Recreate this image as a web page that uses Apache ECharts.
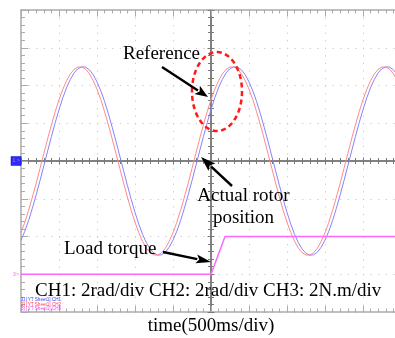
<!DOCTYPE html>
<html><head><meta charset="utf-8">
<script src="https://cdn.jsdelivr.net/npm/echarts@6/dist/echarts.min.js"></script>
<style>html,body{margin:0;padding:0;background:#fff}#c{width:395px;height:338px}</style>
</head><body><div id="c"></div>
<script>
// time in ms relative to the trigger (screen centre), 500 ms/div
const timeMs = [-2500,-2450,-2400,-2350,-2300,-2250,-2200,-2150,-2100,-2050,
  -2000,-1950,-1900,-1850,-1800,-1750,-1700,-1650,-1600,-1550,
  -1500,-1450,-1400,-1350,-1300,-1250,-1200,-1150,-1100,-1050,
  -1000,-950,-900,-850,-800,-750,-700,-650,-600,-550,
  -500,-450,-400,-350,-300,-250,-200,-150,-100,-50,
  0,50,100,150,200,250,300,350,400,450,
  500,550,600,650,700,750,800,850,900,950,
  1000,1050,1100,1150,1200,1250,1300,1350,1400,1450,
  1500,1550,1600,1650,1700,1750,1800,1850,1900,1950,
  2000,2050,2100,2150,2200,2250,2300,2350,2400,2450,2500];
// CH1: actual rotor position (rad)
const ch1Actual = [-4.19,-3.72,-3.15,-2.50,-1.79,-1.04,-0.26,0.52,1.29,2.03,
  2.72,3.35,3.89,4.33,4.67,4.89,4.99,4.97,4.83,4.57,
  4.19,3.72,3.15,2.50,1.79,1.04,0.26,-0.52,-1.29,-2.03,
  -2.72,-3.35,-3.89,-4.33,-4.67,-4.89,-4.99,-4.97,-4.83,-4.57,
  -4.19,-3.72,-3.15,-2.50,-1.79,-1.04,-0.26,0.52,1.29,2.03,
  2.72,3.35,3.89,4.33,4.67,4.89,4.99,4.97,4.83,4.57,
  4.19,3.72,3.15,2.50,1.79,1.04,0.26,-0.52,-1.29,-2.03,
  -2.72,-3.35,-3.89,-4.33,-4.67,-4.89,-4.99,-4.97,-4.83,-4.57,
  -4.19,-3.72,-3.15,-2.50,-1.79,-1.04,-0.26,0.52,1.29,2.03,
  2.72,3.35,3.89,4.33,4.67,4.89,4.99,4.97,4.83,4.57,4.19];
// CH2: reference position (rad)
const ch2Reference = [-3.80,-3.25,-2.61,-1.91,-1.17,-0.39,0.39,1.17,1.91,2.61,
  3.25,3.80,4.26,4.62,4.86,4.98,4.98,4.86,4.62,4.26,
  3.80,3.25,2.61,1.91,1.17,0.39,-0.39,-1.17,-1.91,-2.61,
  -3.25,-3.80,-4.26,-4.62,-4.86,-4.98,-4.98,-4.86,-4.62,-4.26,
  -3.80,-3.25,-2.61,-1.91,-1.17,-0.39,0.39,1.17,1.91,2.61,
  3.25,3.80,4.26,4.62,4.86,4.98,4.98,4.86,4.62,4.26,
  3.80,3.25,2.61,1.91,1.17,0.39,-0.39,-1.17,-1.91,-2.61,
  -3.25,-3.80,-4.26,-4.62,-4.86,-4.98,-4.98,-4.86,-4.62,-4.26,
  -3.80,-3.25,-2.61,-1.91,-1.17,-0.39,0.39,1.17,1.91,2.61,
  3.25,3.80,4.26,4.62,4.86,4.98,4.98,4.86,4.62,4.26,3.80];
// CH3: load torque (N.m)
const ch3Time = [-2500, 0, 185, 2500];
const ch3Torque = [0, 0, 2, 2];
const seriesNames = ['1) [YT Sheet1].CH1', '2) [YT Sheet1].CH2', '3) [YT Sheet1].CH3'];
const scaleText = 'CH1: 2rad/div CH2: 2rad/div CH3: 2N.m/div';
const timeText = 'time(500ms/div)';

const serif = '"Liberation Serif", "Times New Roman", serif';
const borderColor = '#ababab', centerColor = '#7a7a7a';
const blue = '#8484ff', red = '#ff8a8a', magenta = '#ff66ff';

function xAxisDef(position, onZero, tickLen, minorLen, inside, color, extra) {
  return Object.assign({
    type: 'value', min: -2500, max: 2500, interval: 500, position: position,
    axisLine: { show: true, onZero: onZero, onZeroAxisIndex: 0, lineStyle: { color: color, width: 1.5 } },
    axisTick: { show: true, inside: inside, length: tickLen, lineStyle: { color: color, width: 1 } },
    minorTick: { show: true, splitNumber: 5, length: minorLen, lineStyle: { color: color, width: 1 } },
    axisLabel: { show: false }, splitLine: { show: false }
  }, extra || {});
}
function yAxisDef(position, onZero, tickLen, minorLen, inside, color, extra) {
  return Object.assign({
    type: 'value', min: -8, max: 8, interval: 2, position: position,
    axisLine: { show: true, onZero: onZero, onZeroAxisIndex: 0, lineStyle: { color: color, width: 1.5 } },
    axisTick: { show: true, inside: inside, length: tickLen, lineStyle: { color: color, width: 1 } },
    minorTick: { show: true, splitNumber: 5, length: minorLen, lineStyle: { color: color, width: 1 } },
    axisLabel: { show: false }, splitLine: { show: false }
  }, extra || {});
}

function arrow(x1, y1, x2, y2, headLen, headW) {
  const dx = x2 - x1, dy = y2 - y1, L = Math.hypot(dx, dy), ux = dx / L, uy = dy / L;
  const bx = x2 - ux * headLen, by = y2 - uy * headLen;
  const px = -uy * headW / 2, py = ux * headW / 2;
  return [
    { type: 'line', z: 100, shape: { x1: x1, y1: y1, x2: bx + ux, y2: by + uy }, style: { stroke: '#000', lineWidth: 2.4 } },
    { type: 'polygon', z: 101, shape: { points: [[x2, y2], [bx + px, by + py], [bx + ux * 3, by + uy * 3], [bx - px, by - py]] }, style: { fill: '#000' } }
  ];
}
function label(text, x, y, align) {
  return { type: 'text', z: 100, x: x, y: y,
    style: { text: text, font: '19px ' + serif, fill: '#000', align: align || 'left', verticalAlign: 'middle' } };
}
function tiny(text, y, color) {
  return { type: 'text', z: 100, x: 21, y: y,
    style: { text: text, font: '4.6px "Liberation Sans", sans-serif', fill: color, align: 'left', verticalAlign: 'middle' } };
}

const graphics = [
  label('Reference', 123, 54),
  label('Actual rotor', 243.5, 196.5, 'center'),
  label('position', 243.5, 218.5, 'center'),
  label('Load torque', 64, 249.5),
  label(scaleText, 35, 291),
  { type: 'ellipse', z: 100, shape: { cx: 217, cy: 91.5, rx: 25, ry: 39.5 },
    style: { fill: 'none', stroke: '#ff1a1a', lineWidth: 2.5, lineDash: [5, 3.5] } },
  tiny(seriesNames[0], 300, '#3c3cff'),
  tiny(seriesNames[1], 304.5, '#ff3c3c'),
  tiny(seriesNames[2], 309, '#ff3cff')
].concat(arrow(162, 67, 208, 97, 13, 10))
 .concat(arrow(232, 186, 201, 157, 15, 10))
 .concat(arrow(163, 252, 211, 262, 15, 9));

const chart = echarts.init(document.getElementById('c'), null, { renderer: 'canvas' });
chart.setOption({
  animation: false,
  backgroundColor: '#fff',
  grid: { left: 21, top: 10, width: 380, height: 302, containLabel: false, outerBoundsMode: 'none' },
  xAxis: [
    xAxisDef('bottom', false, 6, 3.5, true, borderColor, {
      splitLine: { show: true, lineStyle: { color: '#c8c8c8', width: 1, type: [1.2, 6.35] } },
      name: timeText, nameLocation: 'middle', nameGap: 14.5,
      nameTextStyle: { fontFamily: serif, fontSize: 19, color: '#000', verticalAlign: 'middle' }
    }),
    xAxisDef('top', false, 6.5, 3.5, true, borderColor),
    xAxisDef('bottom', true, 3.5, 3, false, centerColor),
    xAxisDef('top', true, 3.5, 3, false, centerColor)
  ],
  yAxis: [
    yAxisDef('left', false, 7, 4, true, borderColor, {
      splitLine: { show: true, lineStyle: { color: '#c8c8c8', width: 1, type: [1.2, 6.4] } }
    }),
    yAxisDef('left', true, 3.5, 3, false, centerColor),
    yAxisDef('right', true, 3.5, 3, false, centerColor),
    { type: 'value', min: -2, max: 14, show: false, axisLine: { onZero: false } }
  ],
  graphic: graphics,
  series: [
    { name: seriesNames[0], type: 'line', xAxisIndex: 0, yAxisIndex: 0, symbol: 'none', clip: false,
      data: timeMs.map((t, i) => [t, ch1Actual[i]]), lineStyle: { color: blue, width: 1 }, itemStyle: { color: blue },
      markPoint: { symbol: 'rect', symbolSize: [10, 9], symbolOffset: [-5, 0], silent: true,
        itemStyle: { color: '#2b2bff', borderColor: '#1010c0', borderWidth: 0.5 },
        label: { show: true, position: 'inside', formatter: '1 >', fontSize: 5, color: '#ff7070' },
        data: [{ coord: [-2500, 0] }] } },
    { name: seriesNames[1], type: 'line', xAxisIndex: 0, yAxisIndex: 0, symbol: 'none', clip: false,
      data: timeMs.map((t, i) => [t, ch2Reference[i]]), lineStyle: { color: red, width: 1 }, itemStyle: { color: red } },
    { name: seriesNames[2], type: 'line', xAxisIndex: 0, yAxisIndex: 3, symbol: 'none', clip: false,
      data: ch3Time.map((t, i) => [t, ch3Torque[i]]), lineStyle: { color: magenta, width: 1.5 }, itemStyle: { color: magenta },
      markPoint: { symbol: 'rect', symbolSize: [9, 6], symbolOffset: [-5, 0], silent: true,
        itemStyle: { color: 'rgba(0,0,0,0)' },
        label: { show: true, position: 'inside', formatter: '3>', fontSize: 5.5, color: magenta },
        data: [{ coord: [-2500, 0] }] } }
  ]
});
</script></body></html>
